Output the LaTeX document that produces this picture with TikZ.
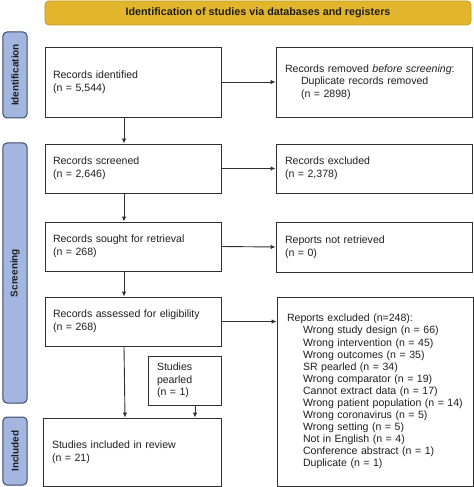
\documentclass[tikz,border=0pt]{standalone}
\usepackage{fontspec}
\setmainfont{Liberation Sans}
\usetikzlibrary{arrows.meta}
\definecolor{hdrfill}{HTML}{E3B52C}
\definecolor{hdrdraw}{HTML}{C49A1E}
\definecolor{sidefill}{HTML}{A3B6E0}
\definecolor{sidedraw}{HTML}{3A4866}
\definecolor{boxdraw}{HTML}{303030}
\definecolor{txt}{HTML}{1E1E1E}
\newcommand{\ind}{\hspace*{16bp}}
\tikzset{
  x=1bp, y=-1bp,
  every node/.style={font=\fontsize{10.6}{13.5}\selectfont, text=txt},
  flowbox/.style={draw=boxdraw, line width=0.9bp, rectangle, align=left, inner sep=0pt},
  sidelabel/.style={draw=sidedraw, fill=sidefill, line width=1bp, rounded corners=4bp, rotate=90,
    font=\fontsize{10}{12}\selectfont\bfseries, minimum height=24bp, inner sep=0pt},
  hdr/.style={draw=hdrdraw, fill=hdrfill, line width=0.8bp, rounded corners=4bp,
    font=\fontsize{10.8}{12}\selectfont\bfseries, minimum height=24bp, minimum width=426bp, inner sep=0pt},
  arr/.style={draw=boxdraw, line width=0.9bp, -{Latex[length=5bp,width=4.5bp]}}
}
\begin{document}
\begin{tikzpicture}
\useasboundingbox (0,0) rectangle (474,487);
% header
\node[hdr] (hdr) at (258,13) {Identification of studies via databases and registers};
% side labels
\node[sidelabel, minimum width=86bp] (sid) at (15,75) {Identification};
\node[sidelabel, minimum width=260bp] (sscr) at (15,273) {Screening};
\node[sidelabel, minimum width=68bp] (sinc) at (15,451) {Included};
% left column
\node[flowbox, minimum width=176bp, minimum height=70bp, text width=160bp] (id) at (133,82)
  {Records identified\\(n = 5,544)};
\node[flowbox, minimum width=176bp, minimum height=49bp, text width=160bp] (scr) at (133,168.5)
  {Records screened\\(n = 2,646)};
\node[flowbox, minimum width=176bp, minimum height=49bp, text width=160bp] (sought) at (133,246.5)
  {Records sought for retrieval\\(n = 268)};
\node[flowbox, minimum width=176bp, minimum height=49bp, text width=160bp] (assess) at (133,321.5)
  {Records assessed for eligibility\\(n = 268)};
\node[flowbox, minimum width=73bp, minimum height=49bp, text width=55bp, font=\fontsize{10.6}{12.5}\selectfont] (pearl) at (184.5,380.5)
  {Studies\\pearled\\(n = 1)};
\node[flowbox, minimum width=178bp, minimum height=68bp, text width=160bp] (incl) at (132,452)
  {Studies included in review\\(n = 21)};
% right column
\node[flowbox, minimum width=196bp, minimum height=70bp, text width=178bp, font=\fontsize{10.6}{12.5}\selectfont] (rem) at (374,82)
  {Records removed \textit{before screening}:\\\ind Duplicate records removed\\\ind (n = 2898)};
\node[flowbox, minimum width=196bp, minimum height=49bp, text width=178bp] (exc) at (374,168.5)
  {Records excluded\\(n = 2,378)};
\node[flowbox, minimum width=196bp, minimum height=50bp, text width=178bp] (notret) at (374,247)
  {Reports not retrieved\\(n = 0)};
\node[flowbox, minimum width=196bp, minimum height=189bp, text width=176bp, font=\fontsize{10.6}{12.1}\selectfont] (repexc) at (375,391.5)
  {Reports excluded (n=248):\\
   \ind Wrong study design (n = 66)\\
   \ind Wrong intervention (n = 45)\\
   \ind Wrong outcomes (n = 35)\\
   \ind SR pearled (n = 34)\\
   \ind Wrong comparator (n = 19)\\
   \ind Cannot extract data (n = 17)\\
   \ind Wrong patient population (n = 14)\\
   \ind Wrong coronavirus (n = 5)\\
   \ind Wrong setting (n = 5)\\
   \ind Not in English (n = 4)\\
   \ind Conference abstract (n = 1)\\
   \ind Duplicate (n = 1)};
% arrows
\draw[arr] ([xshift=-9bp]id.south) -- ([xshift=-9bp]id.south |- scr.north);
\draw[arr] ([xshift=-9bp]scr.south) -- ([xshift=-9bp]scr.south |- sought.north);
\draw[arr] ([xshift=-9bp]sought.south) -- ([xshift=-9bp]sought.south |- assess.north);
\draw[arr] ([xshift=-9bp]assess.south) -- ([xshift=-8bp]assess.south |- incl.north);
\draw[arr] ([xshift=10.5bp]pearl.south) -- ([xshift=10.5bp]pearl.south |- incl.north);
\draw[arr] (id.east) -- (rem.west);
\draw[arr] (scr.east) -- (exc.west);
\draw[arr] (sought.east) -- (notret.west);
\draw[arr] (assess.east) -- (assess.east -| repexc.west);
\end{tikzpicture}
\end{document}
